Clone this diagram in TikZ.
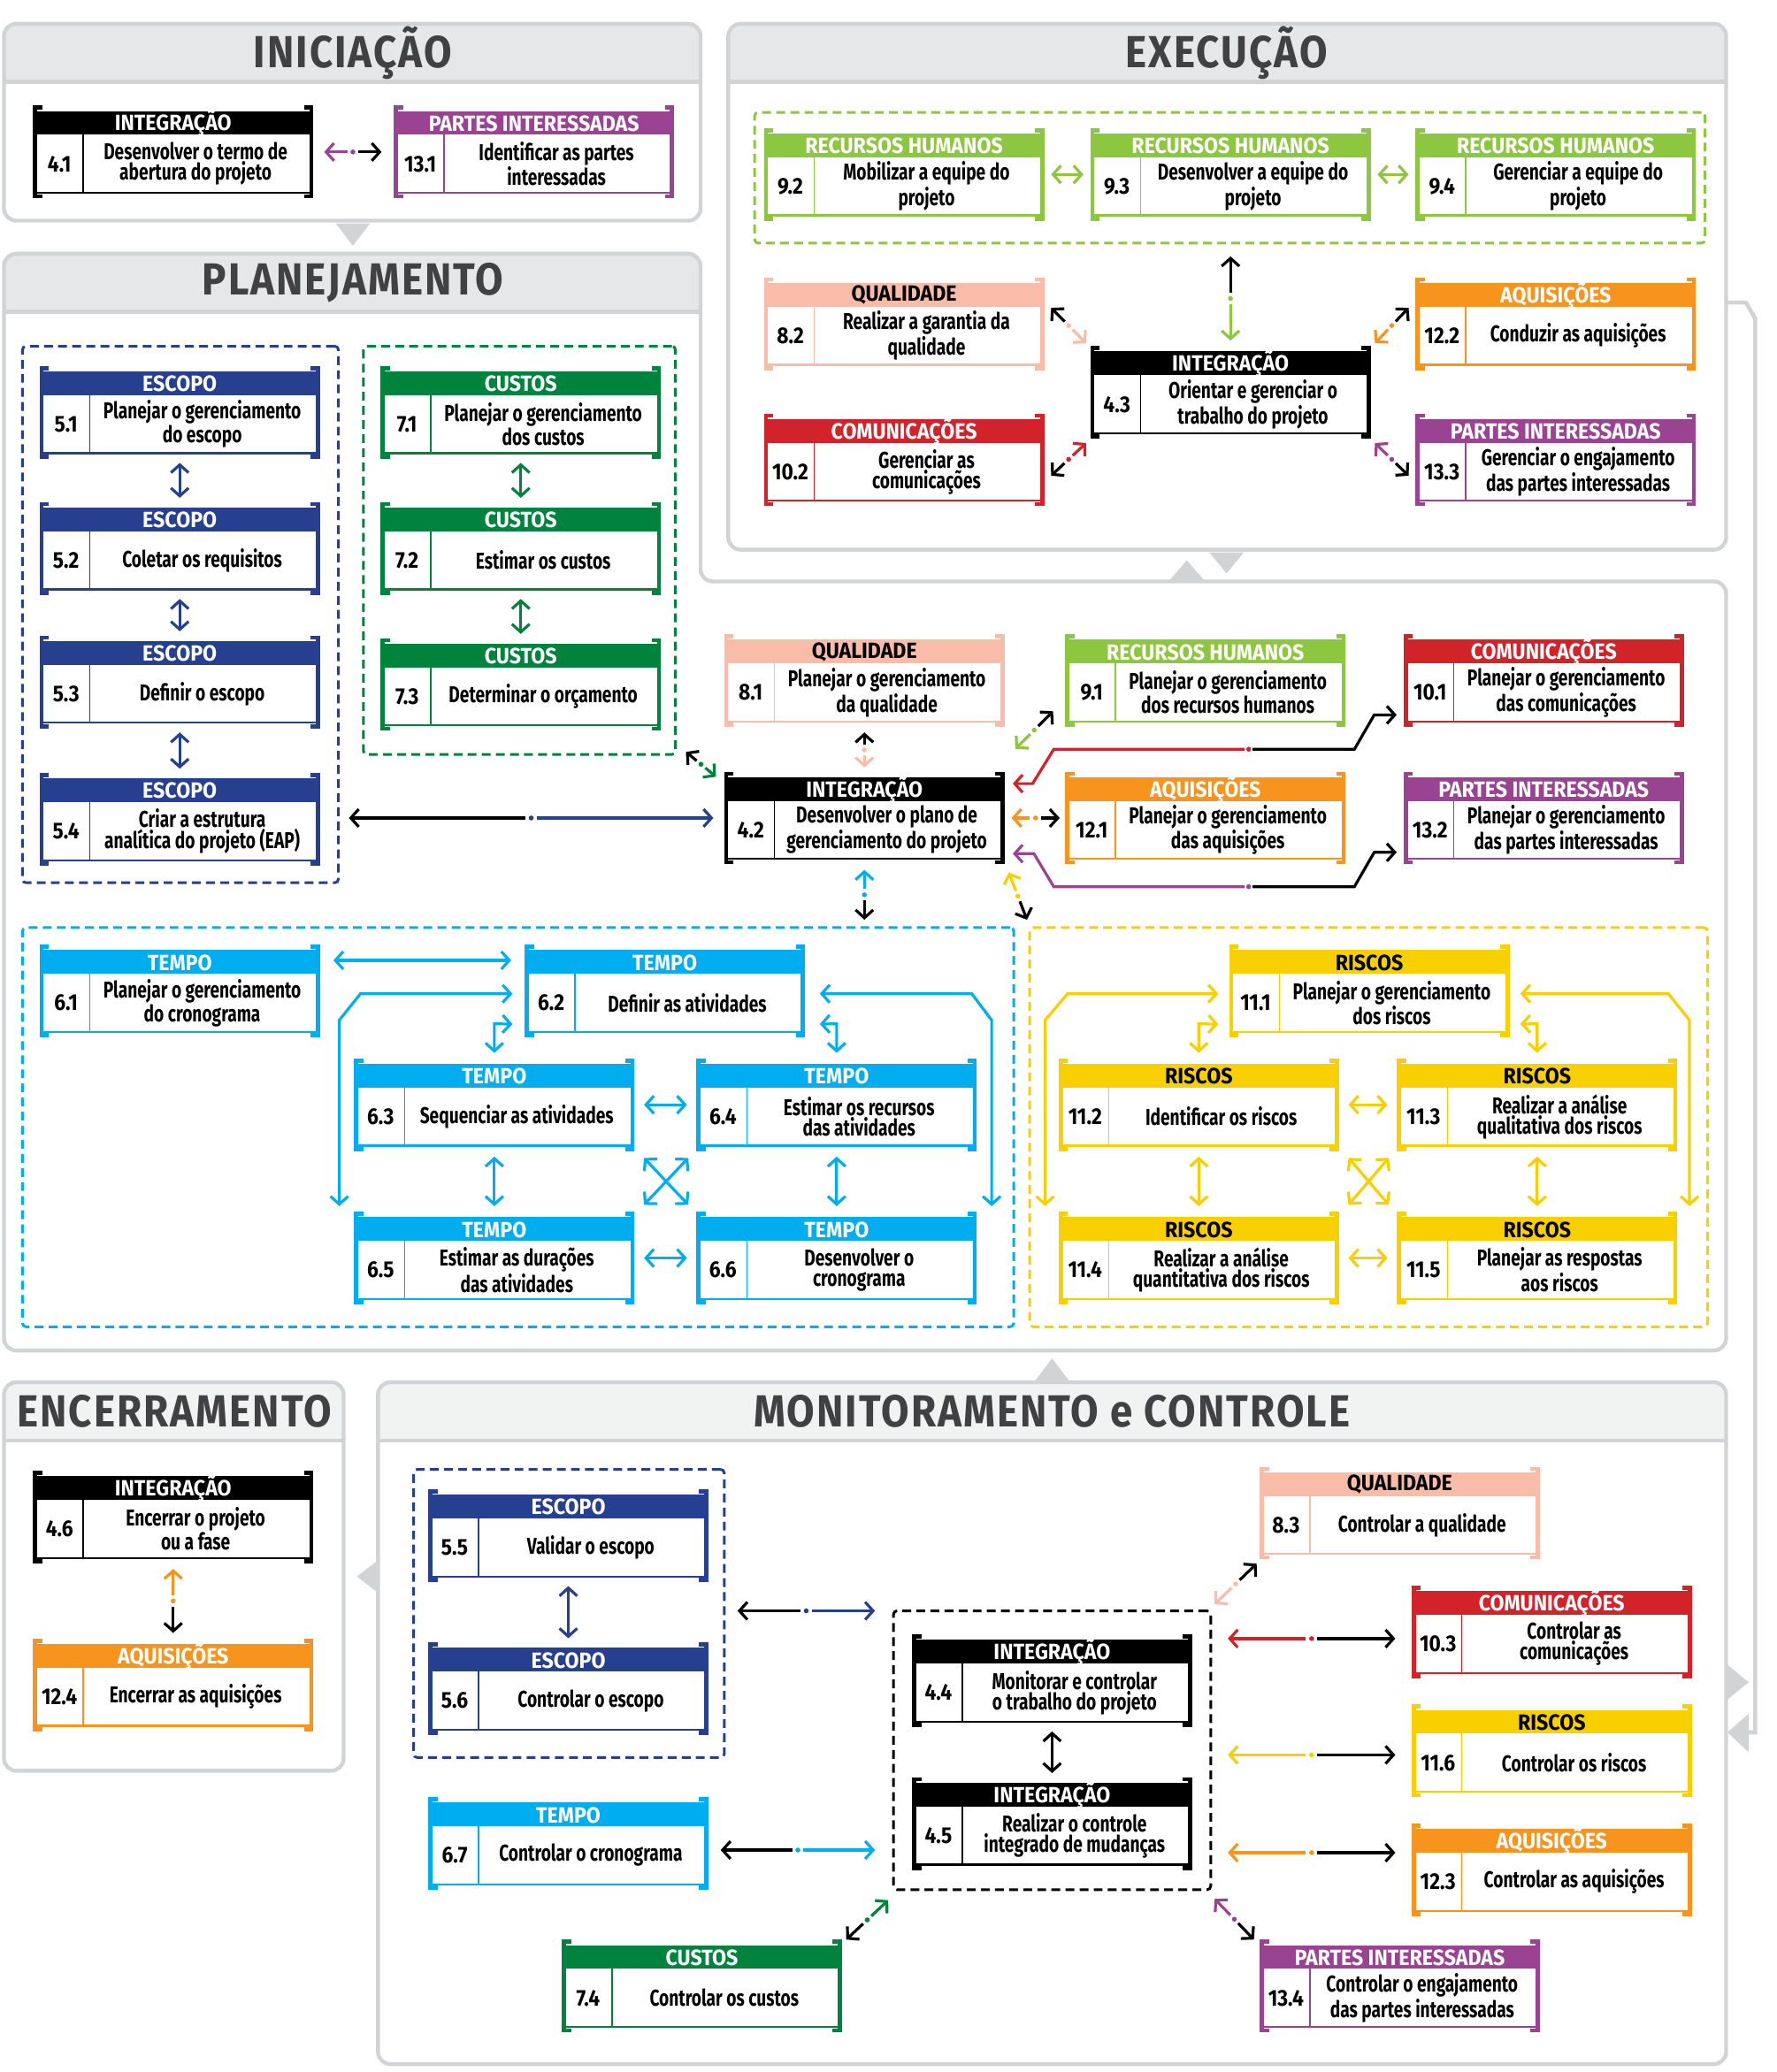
\documentclass[tikz,border=0pt]{standalone}
\usepackage{fontspec}
\setmainfont{Fira Sans}[FakeStretch=0.74]
\newfontfamily\titlefont{Fira Sans}[FakeStretch=0.93]
\newfontfamily\numfont{Fira Sans}[FakeStretch=0.88]
\newfontfamily\headfont{Fira Sans}[FakeStretch=0.9,LetterSpace=4]
\usetikzlibrary{arrows.meta,calc,fit}
\definecolor{integ}{HTML}{000000}
\definecolor{partes}{HTML}{9B4393}
\definecolor{rh}{HTML}{8DC63F}
\definecolor{qual}{HTML}{F9BCA8}
\definecolor{aquis}{HTML}{F7941D}
\definecolor{comun}{HTML}{D2232A}
\definecolor{escopo}{HTML}{263F8E}
\definecolor{custos}{HTML}{00843D}
\definecolor{tempo}{HTML}{00AEEF}
\definecolor{riscos}{HTML}{F8D000}
\definecolor{pgray}{HTML}{D1D3D4}
\definecolor{hfill}{HTML}{E6E7E8}
\definecolor{hfillb}{HTML}{F1F2F2}
\definecolor{htext}{HTML}{414042}
\tikzset{
 ttext/.style={font=\titlefont\bfseries\fontsize{12.5}{12.5}\selectfont, inner sep=0pt},
 btext/.style={font=\bfseries\fontsize{13}{11.6}\selectfont, inner sep=0pt},
 ntext/.style={font=\numfont\bfseries\fontsize{13}{13}\selectfont, inner sep=0pt},
 head/.style={font=\headfont\bfseries\fontsize{25.5}{25.5}\selectfont, text=htext, inner sep=0pt},
 bracket/.style={line width=2.4pt, line cap=butt, line join=miter},
 conn/.style={line width=1.6pt},
 grpbox/.style={inner sep=0pt, dash pattern=on 5pt off 3pt, line width=1.5pt, rounded corners=2pt},
 pline/.style={pgray, line width=2.2pt},
}
\newcommand\pbox[8]{%
 \begin{scope}[shift={(#2,#3)}]
  \fill[white] (2,2) rectangle (210,68);
  \fill[#4] (3,4) rectangle (209,22);
  \node[ttext,text=#5] at (106,13.5) {#6};
  \draw[#4,line width=0.7pt] (38,22) -- (38,66);
  \draw[#4,line width=1.1pt] (3,66) -- (209,66);
  \draw[#4,bracket] (7,1.5) -- (1.5,1.5) -- (1.5,68.5) -- (7,68.5);
  \draw[#4,bracket] (205,1.5) -- (210.5,1.5) -- (210.5,68.5) -- (205,68.5);
  \node[ntext] at (20,44) {#7};
  \node[btext,align=center] at (123,44) {#8};
 \end{scope}
 \path (#2,#3) coordinate (#1-a) ++(212,70) coordinate (#1-b);
 \node[fit=(#1-a)(#1-b),inner sep=0pt] (#1) {};
}
\newcommand\grp[6]{%
 \path (#3,#4) coordinate (#1-a) (#5,#6) coordinate (#1-b);
 \node[grpbox,draw=#2,fit=(#1-a)(#1-b)] (#1) {};
}
\newcommand\tarr[5]{%
 \coordinate (ta) at (#2);
 \coordinate (tb) at (#4);
 \coordinate (tm) at ($(ta)!0.5!(tb)$);
 \draw[conn,draw=#1,->] ($(tm)!3.2pt!(ta)$) -- (ta);
 \draw[conn,draw=#3,->] ($(tm)!3.2pt!(tb)$) -- (tb);
 \fill[#5] (tm) circle (1.4pt);
}
\newcommand\panel[6]{%
 \fill[white,rounded corners=7pt] (#1,#2) rectangle (#3,#4);
 \begin{scope}
  \clip[rounded corners=7pt] (#1,#2) rectangle (#3,#4);
  \fill[#6] (#1,#2) rectangle (#3,#5);
 \end{scope}
 \draw[pline] (#1,#5) -- (#3,#5);
 \draw[pline,rounded corners=7pt] (#1,#2) rectangle (#3,#4);
}
\begin{document}
\begin{tikzpicture}[x={(0.75pt,0)},y={(0,-0.75pt)},>={Straight Barb[length=4.5pt,width=10pt]}]
\useasboundingbox (0,0) rectangle (1344,1568);
\fill[white] (0,0) rectangle (1344,1568);
% ---------- panels ----------
\panel{3}{18}{530}{167}{62}{hfill}
\panel{551}{18}{1306}{416}{62}{hfill}
\fill[white,rounded corners=7pt] (3,192) -- (530,192) -- (530,440) -- (1306,440) -- (1306,1022) -- (3,1022) -- cycle;
\begin{scope}
 \clip[rounded corners=7pt] (3,192) -- (530,192) -- (530,440) -- (1306,440) -- (1306,1022) -- (3,1022) -- cycle;
 \fill[hfill] (3,192) rectangle (530,236);
\end{scope}
\draw[pline] (3,236) -- (530,236);
\draw[pline,rounded corners=7pt] (3,192) -- (530,192) -- (530,440) -- (1306,440) -- (1306,1022) -- (3,1022) -- cycle;
\panel{3}{1046}{260}{1340}{1090}{hfillb}
\panel{286}{1046}{1306}{1562}{1090}{hfillb}
% pointers
\fill[pgray] (254,169) -- (280,169) -- (267,186) -- cycle;
\fill[pgray] (915,418) -- (941,418) -- (928,434) -- cycle;
\fill[pgray] (885,439) -- (911,439) -- (898,424) -- cycle;
\fill[pgray] (783,1045) -- (809,1045) -- (796,1028) -- cycle;
\fill[pgray] (287,1180) -- (287,1206) -- (270,1193) -- cycle;
\fill[pgray] (1306,1259) -- (1323,1273) -- (1306,1287) -- cycle;
\draw[pgray,line width=2.3pt] (1307,229) -- (1321,229) -- (1328,241) -- (1328,1311) -- (1320,1311);
\fill[pgray] (1307,1311) -- (1323,1297) -- (1323,1326) -- cycle;
% headings
\node[head] (hini) at (267,40) {INICIAÇÃO};
\node[head] (hexe) at (928,40) {EXECUÇÃO};
\node[head] (hpla) at (267,214) {PLANEJAMENTO};
\node[head] (henc) at (132,1068) {ENCERRAMENTO};
\node[head] (hmon) at (796,1068) {MONITORAMENTO e CONTROLE};
% ---------- groups ----------
\grp{grh}{rh}{571}{85}{1290}{184}
\grp{gesc}{escopo}{17}{262}{256}{668}
\grp{gcus}{custos}{275}{262}{511}{571}
\grp{gtempo}{tempo}{17}{702}{767}{1004}
\grp{grisc}{riscos}{779}{702}{1292}{1004}
\grp{gesc2}{escopo}{313}{1112}{548}{1330}
\grp{gint}{black}{676}{1219}{916}{1430}
% ---------- boxes ----------
\pbox{n41}{25}{80}{integ}{white}{INTEGRAÇÃO}{4.1}{Desenvolver o termo de\\abertura do projeto}
\pbox{n131}{298}{80}{partes}{white}{PARTES INTERESSADAS}{13.1}{Identificar as partes\\interessadas}
\pbox{n92}{578}{97}{rh}{white}{RECURSOS HUMANOS}{9.2}{Mobilizar a equipe do\\projeto}
\pbox{n93}{825}{97}{rh}{white}{RECURSOS HUMANOS}{9.3}{Desenvolver a equipe do\\projeto}
\pbox{n94}{1071}{97}{rh}{white}{RECURSOS HUMANOS}{9.4}{Gerenciar a equipe do\\projeto}
\pbox{n82}{578}{210}{qual}{black}{QUALIDADE}{8.2}{Realizar a garantia da\\qualidade}
\pbox{n122}{1071}{210}{aquis}{white}{AQUISIÇÕES}{12.2}{Conduzir as aquisições}
\pbox{n43}{825}{262}{integ}{white}{INTEGRAÇÃO}{4.3}{Orientar e gerenciar o\\trabalho do projeto}
\pbox{n102}{578}{313}{comun}{white}{COMUNICAÇÕES}{10.2}{Gerenciar as\\comunicações}
\pbox{n133}{1071}{313}{partes}{white}{PARTES INTERESSADAS}{13.3}{Gerenciar o engajamento\\das partes interessadas}
\pbox{n51}{30}{277}{escopo}{white}{ESCOPO}{5.1}{Planejar o gerenciamento\\do escopo}
\pbox{n52}{30}{380}{escopo}{white}{ESCOPO}{5.2}{Coletar os requisitos}
\pbox{n53}{30}{481}{escopo}{white}{ESCOPO}{5.3}{Definir o escopo}
\pbox{n54}{30}{585}{escopo}{white}{ESCOPO}{5.4}{Criar a estrutura\\analítica do projeto (EAP)}
\pbox{n71}{288}{277}{custos}{white}{CUSTOS}{7.1}{Planejar o gerenciamento\\dos custos}
\pbox{n72}{288}{380}{custos}{white}{CUSTOS}{7.2}{Estimar os custos}
\pbox{n73}{288}{483}{custos}{white}{CUSTOS}{7.3}{Determinar o orçamento}
\pbox{n81}{548}{480}{qual}{black}{QUALIDADE}{8.1}{Planejar o gerenciamento\\da qualidade}
\pbox{n91}{806}{480}{rh}{white}{RECURSOS HUMANOS}{9.1}{Planejar o gerenciamento\\dos recursos humanos}
\pbox{n101}{1062}{480}{comun}{white}{COMUNICAÇÕES}{10.1}{Planejar o gerenciamento\\das comunicações}
\pbox{n42}{548}{584}{integ}{white}{INTEGRAÇÃO}{4.2}{Desenvolver o plano de\\gerenciamento do projeto}
\pbox{n121}{806}{584}{aquis}{white}{AQUISIÇÕES}{12.1}{Planejar o gerenciamento\\das aquisições}
\pbox{n132}{1062}{584}{partes}{white}{PARTES INTERESSADAS}{13.2}{Planejar o gerenciamento\\das partes interessadas}
\pbox{n61}{30}{715}{tempo}{white}{TEMPO}{6.1}{Planejar o gerenciamento\\do cronograma}
\pbox{n62}{397}{715}{tempo}{white}{TEMPO}{6.2}{Definir as atividades}
\pbox{n63}{268}{801}{tempo}{white}{TEMPO}{6.3}{Sequenciar as atividades}
\pbox{n64}{527}{801}{tempo}{white}{TEMPO}{6.4}{Estimar os recursos\\das atividades}
\pbox{n65}{268}{917}{tempo}{white}{TEMPO}{6.5}{Estimar as durações\\das atividades}
\pbox{n66}{527}{917}{tempo}{white}{TEMPO}{6.6}{Desenvolver o\\cronograma}
\pbox{n111}{930}{715}{riscos}{black}{RISCOS}{11.1}{Planejar o gerenciamento\\dos riscos}
\pbox{n112}{801}{801}{riscos}{black}{RISCOS}{11.2}{Identificar os riscos}
\pbox{n113}{1057}{801}{riscos}{black}{RISCOS}{11.3}{Realizar a análise\\qualitativa dos riscos}
\pbox{n114}{801}{917}{riscos}{black}{RISCOS}{11.4}{Realizar a análise\\quantitativa dos riscos}
\pbox{n115}{1057}{917}{riscos}{black}{RISCOS}{11.5}{Planejar as respostas\\aos riscos}
\pbox{n46}{25}{1113}{integ}{white}{INTEGRAÇÃO}{4.6}{Encerrar o projeto\\ou a fase}
\pbox{n124}{25}{1240}{aquis}{white}{AQUISIÇÕES}{12.4}{Encerrar as aquisições}
\pbox{n55}{324}{1127}{escopo}{white}{ESCOPO}{5.5}{Validar o escopo}
\pbox{n56}{324}{1243}{escopo}{white}{ESCOPO}{5.6}{Controlar o escopo}
\pbox{n67}{324}{1360}{tempo}{white}{TEMPO}{6.7}{Controlar o cronograma}
\pbox{n74}{425}{1468}{custos}{white}{CUSTOS}{7.4}{Controlar os custos}
\pbox{n44}{690}{1237}{integ}{white}{INTEGRAÇÃO}{4.4}{Monitorar e controlar\\o trabalho do projeto}
\pbox{n45}{690}{1345}{integ}{white}{INTEGRAÇÃO}{4.5}{Realizar o controle\\integrado de mudanças}
\pbox{n83}{953}{1110}{qual}{black}{QUALIDADE}{8.3}{Controlar a qualidade}
\pbox{n103}{1068}{1200}{comun}{white}{COMUNICAÇÕES}{10.3}{Controlar as\\comunicações}
\pbox{n116}{1068}{1290}{riscos}{black}{RISCOS}{11.6}{Controlar os riscos}
\pbox{n123}{1068}{1380}{aquis}{white}{AQUISIÇÕES}{12.3}{Controlar as aquisições}
\pbox{n134}{953}{1468}{partes}{white}{PARTES INTERESSADAS}{13.4}{Controlar o engajamento\\das partes interessadas}
% ---------- connectors: iniciação ----------
\tarr{partes}{$(n41.east)+(8,0)$}{black}{$(n131.west)+(-9,0)$}{partes}
% ---------- execução ----------
\draw[conn,rh,<->] ($(n92.east)+(5,0)$) -- ($(n93.west)+(-5,0)$);
\draw[conn,rh,<->] ($(n93.east)+(5,0)$) -- ($(n94.west)+(-5,0)$);
\tarr{black}{$(n43.north|-grh.south)+(0,9)$}{rh}{$(n43.north)+(0,-4)$}{rh}
\tarr{black}{$(n82.east)+(5,-12)$}{qual}{$(n43.north west)+(-3,-2)$}{qual}
\tarr{black}{$(n122.west)+(-5,-12)$}{aquis}{$(n43.north east)+(3,-2)$}{aquis}
\tarr{black}{$(n102.east)+(5,12)$}{comun}{$(n43.south west)+(-3,3)$}{comun}
\tarr{black}{$(n133.west)+(-5,12)$}{partes}{$(n43.south east)+(3,3)$}{partes}
% ---------- planejamento ----------
\draw[conn,escopo,<->] ($(n51.south)+(0,3)$) -- ($(n52.north)+(0,-3)$);
\draw[conn,escopo,<->] ($(n52.south)+(0,3)$) -- ($(n53.north)+(0,-3)$);
\draw[conn,escopo,<->] ($(n53.south)+(0,3)$) -- ($(n54.north)+(0,-3)$);
\draw[conn,custos,<->] ($(n71.south)+(0,3)$) -- ($(n72.north)+(0,-3)$);
\draw[conn,custos,<->] ($(n72.south)+(0,3)$) -- ($(n73.north)+(0,-3)$);
\tarr{black}{$(gesc.east|-n42.west)+(7,0)$}{escopo}{$(n42.west)+(-8,0)$}{escopo}
\tarr{black}{$(gcus.south east)+(7,-3)$}{custos}{$(n42.north west)+(-6,4)$}{custos}
\tarr{black}{$(n81.south)+(0,4)$}{qual}{$(n42.north)+(0,-3)$}{qual}
\tarr{black}{$(n91.south west)+(-9,-12)$}{rh}{$(n42.north east)+(8,-17)$}{rh}
\tarr{aquis}{$(n42.east)+(5,0)$}{black}{$(n121.west)+(-4,0)$}{aquis}
\draw[conn,comun,->] ($(n101.west)+(-120,52)$) -- ($(n42.east)+(37,-52)$) -- ($(n42.east)+(21,-26)$) -- ($(n42.east)+(6,-26)$);
\draw[conn,black,->] ($(n101.west)+(-114,52)$) -- ($(n101.west)+(-37,52)$) -- ($(n101.west)+(-22,26)$) -- ($(n101.west)+(-5,26)$);
\fill[comun] ($(n101.west)+(-117,52)$) circle (1.4pt);
\draw[conn,partes,->] ($(n132.west)+(-120,52)$) -- ($(n42.east)+(37,52)$) -- ($(n42.east)+(22,27)$) -- ($(n42.east)+(6,27)$);
\draw[conn,black,->] ($(n132.west)+(-114,52)$) -- ($(n132.west)+(-37,52)$) -- ($(n132.west)+(-22,26)$) -- ($(n132.west)+(-5,26)$);
\fill[partes] ($(n132.west)+(-117,52)$) circle (1.4pt);
\tarr{tempo}{$(n42.south)+(0,4)$}{black}{$(n42.south|-gtempo.north)+(0,-5)$}{tempo}
\tarr{riscos}{$(n42.south east)+(3,6)$}{black}{$(grisc.north west)+(-1,-5)$}{riscos}
% ---------- tempo ----------
\draw[conn,tempo,<->] ($(n61.north east)+(10,12)$) -- ($(n62.north west)+(-10,12)$);
\draw[conn,tempo,<->] ($(n62.west)+(-9,2)$) -- ($(n62.west)+(-124,2)$) -- ($(n62.west)+(-140,22)$) -- ($(n65.north west)+(-11,-4)$);
\draw[conn,tempo,<->] ($(n62.west)+(-9,25)$) -- ($(n63.north)+(0,-26)$) -- ($(n63.north)+(0,-4)$);
\draw[conn,tempo,<->] ($(n62.east)+(11,2)$) -- ($(n62.east)+(126,2)$) -- ($(n62.east)+(141,22)$) -- ($(n66.north east)+(11,-4)$);
\draw[conn,tempo,<->] ($(n62.east)+(11,25)$) -- ($(n64.north)+(0,-26)$) -- ($(n64.north)+(0,-4)$);
\draw[conn,tempo,<->] ($(n63.east)+(7,0)$) -- ($(n64.west)+(-7,0)$);
\draw[conn,tempo,<->] ($(n65.east)+(7,0)$) -- ($(n66.west)+(-7,0)$);
\draw[conn,tempo,<->] ($(n63.south)+(0,4)$) -- ($(n65.north)+(0,-4)$);
\draw[conn,tempo,<->] ($(n64.south)+(0,4)$) -- ($(n66.north)+(0,-4)$);
\draw[conn,tempo,<->] ($(n63.south east)+(7,5)$) -- ($(n66.north west)+(-6,-5)$);
\draw[conn,tempo,<->] ($(n64.south west)+(-6,5)$) -- ($(n65.north east)+(7,-5)$);
% ---------- riscos ----------
\draw[conn,riscos,<->] ($(n111.west)+(-8,2)$) -- ($(n111.west)+(-122,2)$) -- ($(n111.west)+(-139,22)$) -- ($(n114.north west)+(-10,-4)$);
\draw[conn,riscos,<->] ($(n111.west)+(-8,25)$) -- ($(n112.north)+(0,-26)$) -- ($(n112.north)+(0,-4)$);
\draw[conn,riscos,<->] ($(n111.east)+(8,2)$) -- ($(n111.east)+(120,2)$) -- ($(n111.east)+(136,22)$) -- ($(n115.north east)+(9,-4)$);
\draw[conn,riscos,<->] ($(n111.east)+(8,25)$) -- ($(n113.north)+(0,-26)$) -- ($(n113.north)+(0,-4)$);
\draw[conn,riscos,<->] ($(n112.east)+(7,0)$) -- ($(n113.west)+(-7,0)$);
\draw[conn,riscos,<->] ($(n114.east)+(7,0)$) -- ($(n115.west)+(-7,0)$);
\draw[conn,riscos,<->] ($(n112.south)+(0,4)$) -- ($(n114.north)+(0,-4)$);
\draw[conn,riscos,<->] ($(n113.south)+(0,4)$) -- ($(n115.north)+(0,-4)$);
\draw[conn,riscos,<->] ($(n112.south east)+(7,5)$) -- ($(n115.north west)+(-6,-5)$);
\draw[conn,riscos,<->] ($(n113.south west)+(-6,5)$) -- ($(n114.north east)+(7,-5)$);
% ---------- encerramento ----------
\tarr{aquis}{$(n46.south)+(0,4)$}{black}{$(n124.north)+(0,-4)$}{aquis}
% ---------- monitoramento ----------
\draw[conn,escopo,<->] ($(n55.south)+(0,3)$) -- ($(n56.north)+(0,-3)$);
\draw[conn,black,<->] ($(n44.south)+(0,3)$) -- ($(n45.north)+(0,-3)$);
\tarr{black}{$(gesc2.east|-gint.north)+(9,1)$}{escopo}{$(gint.north west)+(-13,1)$}{escopo}
\tarr{black}{$(n67.east)+(9,5)$}{tempo}{$(gint.west|-n67.east)+(-13,5)$}{tempo}
\tarr{black}{$(n74.north east)+(3,0)$}{custos}{$(gint.south west)+(-3,7)$}{custos}
\tarr{black}{$(n83.south west)+(-2,3)$}{qual}{$(gint.north east)+(2,-4)$}{qual}
\tarr{comun}{$(gint.east|-n103.west)+(12,5)$}{black}{$(n103.west)+(-12,5)$}{comun}
\tarr{riscos}{$(gint.east|-n116.west)+(12,3)$}{black}{$(n116.west)+(-12,3)$}{riscos}
\tarr{aquis}{$(gint.east|-n123.west)+(12,-13)$}{black}{$(n123.west)+(-12,-13)$}{aquis}
\tarr{partes}{$(gint.south east)+(2,6)$}{black}{$(n134.north west)+(-4,0)$}{partes}
\end{tikzpicture}
\end{document}
